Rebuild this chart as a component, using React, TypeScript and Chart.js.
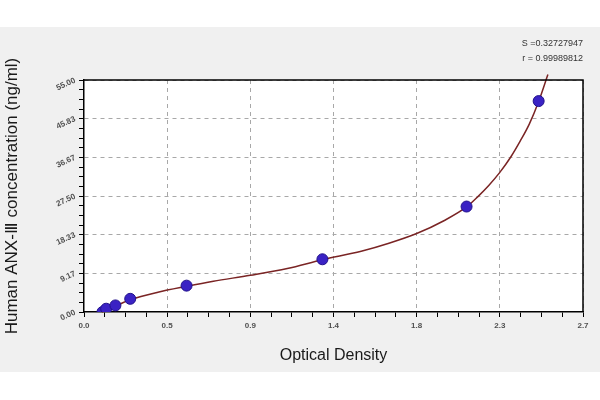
import React, { useEffect, useRef } from "react";
import { Chart, registerables } from "chart.js";

Chart.register(...registerables);

// Standard points (Optical Density, concentration ng/ml)
const standardOD = [0.10, 0.12, 0.17, 0.25, 0.555, 1.29, 2.07, 2.46];
const standardConc = [0, 0.78, 1.56, 3.125, 6.25, 12.5, 25, 50];

// Fitted curve
const curveOD = [0.096, 0.17, 0.25, 0.4, 0.555, 0.7, 0.9, 1.1, 1.29, 1.5, 1.65, 1.8, 1.95, 2.07, 2.13, 2.19, 2.25, 2.31, 2.36, 2.41, 2.46, 2.51];
const curveConc = [0, 1.4, 2.9, 4.7, 6.1, 7.3, 8.7, 10.3, 12.4, 14.4, 16.3, 18.6, 21.7, 24.9, 27.3, 30.0, 33.1, 36.8, 40.5, 44.6, 49.9, 56.3];

// Axis ticks
const xTickLabels = ["0.0", "0.5", "0.9", "1.4", "1.8", "2.3", "2.7"];
const xMax = 2.7;
const yTickLabels = ["0.00", "9.17", "18.33", "27.50", "36.67", "45.83", "55.00"];
const yMax = 55;
const minorPerMajor = 4;

const fitText = ["S =0.32727947", "r = 0.99989812"];

export default function App() {
  const ref = useRef<HTMLCanvasElement | null>(null);

  useEffect(() => {
    document.body.style.margin = "0";
    const canvas = ref.current;
    if (!canvas) return;

    const bgPlugin = {
      id: "bg",
      beforeDraw(chart: any) {
        const { ctx, width, height, chartArea } = chart;
        ctx.save();
        ctx.fillStyle = "#ffffff";
        ctx.fillRect(0, 0, width, height);
        ctx.fillStyle = "#f0f0f0";
        ctx.fillRect(0, 27, width, 345);
        ctx.fillStyle = "#ffffff";
        ctx.fillRect(chartArea.left, chartArea.top, chartArea.right - chartArea.left, chartArea.bottom - chartArea.top);
        ctx.restore();
      },
      afterDraw(chart: any) {
        const { ctx, chartArea } = chart;
        ctx.save();
        ctx.strokeStyle = "#000";
        ctx.lineWidth = 1.5;
        ctx.beginPath();
        ctx.moveTo(chartArea.left, chartArea.top);
        ctx.lineTo(chartArea.right, chartArea.top);
        ctx.lineTo(chartArea.right, chartArea.bottom);
        ctx.stroke();
        ctx.restore();
      },
    };

    const makeTicks = (max: number, nMajor: number) => {
      const n = nMajor * minorPerMajor;
      const arr: { value: number }[] = [];
      for (let i = 0; i <= n; i++) arr.push({ value: (max * i) / n });
      return arr;
    };

    const gridColor = (ctx: any) =>
      ctx.index % minorPerMajor === 0 && ctx.index !== 0 ? "#a8a8a8" : "rgba(0,0,0,0)";

    const chart = new Chart(canvas, {
      type: "scatter",
      data: {
        datasets: [
          {
            label: "curve",
            data: curveOD.map((x, i) => ({ x, y: curveConc[i] })),
            showLine: true,
            borderColor: "#7a2424",
            borderWidth: 1.5,
            pointRadius: 0,
            cubicInterpolationMode: "monotone",
            clip: false as any,
            order: 2,
          },
          {
            label: "standards",
            data: standardOD.map((x, i) => ({ x, y: standardConc[i] })),
            showLine: false,
            pointRadius: 5.5,
            pointStyle: "circle",
            backgroundColor: "#3a22c4",
            borderColor: "#22128c",
            borderWidth: 1,
            order: 1,
          },
        ],
      },
      options: {
        animation: false,
        responsive: false,
        devicePixelRatio: 1,
        layout: { padding: { top: 27, right: 17, left: 0, bottom: 0 } },
        plugins: {
          legend: { display: false },
          tooltip: { enabled: false },
          title: {
            display: true,
            text: fitText,
            align: "end",
            color: "#333",
            font: { family: "Liberation Sans, Arial, sans-serif", size: 9, weight: "normal", lineHeight: 15 / 9 },
            padding: { top: 9.5, bottom: 13.5 },
          },
        },
        scales: {
          x: {
            type: "linear",
            min: 0,
            max: xMax,
            afterBuildTicks: (scale: any) => {
              scale.ticks = makeTicks(xMax, xTickLabels.length - 1);
            },
            afterFit: (scale: any) => {
              scale.height = 88;
            },
            ticks: {
              autoSkip: false,
              maxRotation: 0,
              minRotation: 0,
              padding: 4,
              color: "#505050",
              font: { family: "Liberation Sans, Arial, sans-serif", size: 8, weight: "bold" },
              callback: (_v: any, i: number) => (i % minorPerMajor === 0 ? xTickLabels[i / minorPerMajor] : ""),
            },
            grid: {
              color: gridColor,
              lineWidth: 1,
              tickColor: "#000",
              tickLength: 5,
              tickWidth: 1,
              tickBorderDash: [],
            },
            border: { display: true, color: "#000", width: 1.5, dash: [4, 4] },
            title: {
              display: true,
              text: "Optical Density",
              color: "#1a1a1a",
              font: { family: "Liberation Sans, Arial, sans-serif", size: 16 },
              padding: { top: 0, bottom: 34.4 },
            },
          },
          y: {
            type: "linear",
            min: 0,
            max: yMax,
            afterBuildTicks: (scale: any) => {
              scale.ticks = makeTicks(yMax, yTickLabels.length - 1);
            },
            afterFit: (scale: any) => {
              scale.width = 84;
            },
            ticks: {
              autoSkip: false,
              minRotation: 25,
              maxRotation: 25,
              padding: 4,
              color: "#505050",
              font: { family: "Liberation Sans, Arial, sans-serif", size: 8, weight: "bold" },
              callback: (_v: any, i: number) => (i % minorPerMajor === 0 ? yTickLabels[i / minorPerMajor] : ""),
            },
            grid: {
              color: gridColor,
              lineWidth: 1,
              tickColor: "#000",
              tickLength: 5,
              tickWidth: 1,
              tickBorderDash: [],
            },
            border: { display: true, color: "#000", width: 1.5, dash: [4, 4] },
            title: {
              display: true,
              text: "Human ANX-Ⅲ concentration (ng/ml)",
              color: "#1a1a1a",
              font: { family: "Liberation Sans, Arial, sans-serif", size: 17 },
              padding: { top: 2, bottom: 0 },
            },
          },
        },
      } as any,
      plugins: [bgPlugin],
    });

    return () => chart.destroy();
  }, []);

  return (
    <div style={{ width: 600, height: 400 }}>
      <canvas ref={ref} width={600} height={400} style={{ display: "block" }} />
    </div>
  );
}
